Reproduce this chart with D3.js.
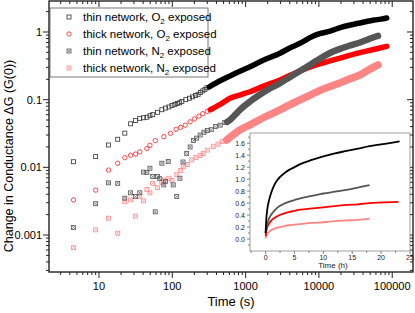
<!DOCTYPE html>
<html>
<head>
<meta charset="utf-8">
<script src="https://cdn.jsdelivr.net/npm/d3@7"></script>
<style>
  body { margin: 0; background: #fff; }
  svg { display: block; font-family: "Liberation Sans", Arial, sans-serif; }
</style>
</head>
<body>
<svg id="chart" width="415" height="313"></svg>
<script>
// early (sparse) points, time in s
const thinO2T = [4.5, 9, 13.5, 18, 22.5, 27, 31.5, 36, 40.5, 45, 49.5, 54, 63, 72, 81, 90, 99, 108, 117, 126, 135, 153, 171, 189, 207, 225, 243, 261, 279, 297];
const thinO2V = [0.0121, 0.0144, 0.0214, 0.026, 0.032, 0.044, 0.049, 0.053, 0.054, 0.055, 0.058, 0.06, 0.065, 0.071, 0.075, 0.078, 0.082, 0.085, 0.088, 0.09, 0.094, 0.1, 0.105, 0.11, 0.115, 0.12, 0.128, 0.135, 0.142, 0.15];

const thickO2T = [4.5, 9, 13.5, 18, 22.5, 27, 31.5, 36, 45, 49.5, 58.5, 76.5, 94.5, 112.5, 130, 150, 175, 200, 230, 260, 300, 340];
const thickO2V = [0.0033, 0.0046, 0.0091, 0.0115, 0.0139, 0.0151, 0.0157, 0.0169, 0.0189, 0.0212, 0.0248, 0.0284, 0.0318, 0.0365, 0.039, 0.042, 0.047, 0.052, 0.057, 0.062, 0.067, 0.072];

const thinN2T = [4.5, 9, 13.5, 18, 22.5, 27, 31.5, 36, 40.5, 45, 49.5, 54, 58.5, 63, 67.5, 72, 76.5, 81, 88, 103, 115, 127, 140, 157, 175, 195, 215, 240, 270, 300, 340, 390, 450, 520];
const thinN2V = [0.00129, 0.0029, 0.0059, 0.0058, 0.0035, 0.0042, 0.0037, 0.0042, 0.0085, 0.0084, 0.0097, 0.0073, 0.0022, 0.0073, 0.0068, 0.0115, 0.0055, 0.0062, 0.0122, 0.0055, 0.0037, 0.0069, 0.012, 0.016, 0.02, 0.025, 0.027, 0.03, 0.033, 0.035, 0.036, 0.04, 0.042, 0.046];

const thickN2T = [4.5, 9, 13.5, 18, 22.5, 27, 31.5, 36, 40.5, 45, 49.5, 54, 63, 72, 76.5, 90, 99, 115, 130, 141, 160, 184, 210, 240, 264, 300, 361, 420, 480];
const thickN2V = [0.00065, 0.00119, 0.00177, 0.00106, 0.0031, 0.0033, 0.0019, 0.0037, 0.0032, 0.0047, 0.0042, 0.0058, 0.005, 0.006, 0.0065, 0.0069, 0.0064, 0.0078, 0.009, 0.0102, 0.011, 0.0129, 0.014, 0.015, 0.016, 0.018, 0.0202, 0.022, 0.024];

// dense part of each record, drawn as a thick trace
const thinO2DenseT = [320, 450, 612, 850, 1149, 1800, 2943, 4000, 5521, 8000, 10500, 14150, 20000, 27000, 36360, 46000, 57000, 70000, 84100];
const thinO2DenseV = [0.155, 0.19, 0.224, 0.265, 0.307, 0.39, 0.485, 0.58, 0.681, 0.85, 0.95, 1.03, 1.17, 1.27, 1.36, 1.44, 1.5, 1.55, 1.61];
const thickO2DenseT = [330, 450, 612, 850, 1149, 1800, 2943, 4000, 5521, 8000, 10500, 14150, 20000, 27000, 36360, 46000, 57000, 70000, 84100];
const thickO2DenseV = [0.071, 0.085, 0.105, 0.118, 0.131, 0.16, 0.195, 0.228, 0.265, 0.31, 0.34, 0.375, 0.415, 0.455, 0.495, 0.525, 0.555, 0.585, 0.612];
const thinN2DenseT = [560, 612, 700, 850, 1149, 1500, 2000, 2943, 4000, 5521, 8000, 10500, 14150, 20000, 27000, 36360, 46000, 55000, 64000];
const thinN2DenseV = [0.047, 0.05, 0.058, 0.072, 0.094, 0.115, 0.14, 0.175, 0.215, 0.265, 0.34, 0.41, 0.49, 0.57, 0.635, 0.7, 0.77, 0.83, 0.875];
const thickN2DenseT = [550, 700, 839, 1149, 1800, 2943, 4000, 5521, 8000, 10500, 14150, 20000, 27000, 36360, 46000, 55000, 64000];
const thickN2DenseV = [0.0254, 0.031, 0.0357, 0.0423, 0.055, 0.0705, 0.084, 0.099, 0.12, 0.138, 0.156, 0.18, 0.205, 0.232, 0.27, 0.3, 0.326];

// inset, time in hours
const insetThinO2H = [0, 0.1, 0.3, 0.6, 1, 1.5, 2, 3, 4, 5, 6, 8, 10, 12, 14, 16, 18, 20, 22, 23.2];
const insetThinO2V = [0.1, 0.3, 0.5, 0.65, 0.78, 0.9, 0.98, 1.08, 1.15, 1.2, 1.25, 1.32, 1.38, 1.43, 1.47, 1.51, 1.55, 1.58, 1.61, 1.63];
const insetThinN2H = [0, 0.1, 0.3, 0.6, 1, 1.5, 2, 3, 4, 5, 6, 8, 10, 12, 14, 16, 18];
const insetThinN2V = [0.1, 0.17, 0.26, 0.34, 0.41, 0.47, 0.52, 0.58, 0.62, 0.65, 0.68, 0.72, 0.76, 0.79, 0.82, 0.86, 0.9];
const insetThickO2H = [0, 0.1, 0.3, 0.6, 1, 1.5, 2, 3, 4, 5, 6, 8, 10, 12, 14, 16, 18, 20, 23];
const insetThickO2V = [0.05, 0.12, 0.2, 0.26, 0.31, 0.35, 0.38, 0.42, 0.45, 0.47, 0.49, 0.51, 0.53, 0.55, 0.57, 0.58, 0.6, 0.61, 0.62];
const insetThickN2H = [0, 0.1, 0.3, 0.6, 1, 1.5, 2, 3, 4, 5, 6, 8, 10, 12, 14, 16, 18];
const insetThickN2V = [0.01, 0.05, 0.09, 0.12, 0.15, 0.17, 0.19, 0.21, 0.23, 0.24, 0.25, 0.27, 0.28, 0.3, 0.31, 0.32, 0.34];

const xTicks = [10, 100, 1000, 10000, 100000];
const yTicks = [0.001, 0.01, 0.1, 1];
const yTickLabels = ['0.001', '0.01', '0.1', '1'];
const insetXTicks = [0, 5, 10, 15, 20, 25];
const insetYTicks = [0, 0.2, 0.4, 0.6, 0.8, 1.0, 1.2, 1.4, 1.6];

const seriesNames = ['thin network, O', 'thick network, O', 'thin network, N', 'thick network, N'];
const subs = ['2', '2', '2', '2'];

const svg = d3.select('#chart');
const L = 49, R = 413, T = 1, B = 272;

const x = d3.scaleLog().domain([2.08, 192000]).range([L, R]);
const y = d3.scaleLog().domain([2.87, 2.84e-4]).range([T, B]);

const zip = (a, b) => a.map((d, i) => [d, b[i]]);

// minor ticks
function minorLog(lo, hi) {
  const out = [];
  for (let e = Math.floor(Math.log10(lo)); e <= Math.ceil(Math.log10(hi)); e++) {
    for (let m = 1; m < 10; m++) {
      const v = m * Math.pow(10, e);
      if (v >= lo && v <= hi) out.push(v);
    }
  }
  return out;
}
const xMinor = minorLog(2.08, 192000).filter(v => !xTicks.includes(v));
const yMinor = minorLog(2.84e-4, 2.87).filter(v => !yTicks.some(t => Math.abs(t - v) / t < 1e-6));

const axisCol = '#222';
const ax = svg.append('g').attr('stroke', axisCol).attr('stroke-width', 1);

// bottom ticks (outward)
xMinor.forEach(v => ax.append('line').attr('x1', x(v)).attr('x2', x(v)).attr('y1', B).attr('y2', B + 3));
xTicks.forEach(v => ax.append('line').attr('x1', x(v)).attr('x2', x(v)).attr('y1', B).attr('y2', B + 6));
// top ticks (inward)
xMinor.forEach(v => ax.append('line').attr('x1', x(v)).attr('x2', x(v)).attr('y1', T).attr('y2', T + 3));
xTicks.forEach(v => ax.append('line').attr('x1', x(v)).attr('x2', x(v)).attr('y1', T).attr('y2', T + 6));
// left ticks (outward)
yMinor.forEach(v => ax.append('line').attr('y1', y(v)).attr('y2', y(v)).attr('x1', L).attr('x2', L - 3));
yTicks.forEach(v => ax.append('line').attr('y1', y(v)).attr('y2', y(v)).attr('x1', L).attr('x2', L - 6));
// right ticks (inward)
yMinor.forEach(v => ax.append('line').attr('y1', y(v)).attr('y2', y(v)).attr('x1', R).attr('x2', R - 3));
yTicks.forEach(v => ax.append('line').attr('y1', y(v)).attr('y2', y(v)).attr('x1', R).attr('x2', R - 6));

svg.append('rect').attr('x', L).attr('y', T).attr('width', R - L).attr('height', B - T)
  .attr('fill', 'none').attr('stroke', axisCol).attr('stroke-width', 1.4);

// tick labels
svg.append('g').selectAll('text').data(xTicks).enter().append('text')
  .attr('x', d => x(d)).attr('y', B + 18).attr('text-anchor', 'middle')
  .attr('font-size', 11).attr('fill', '#000').text(d => d);
svg.append('g').selectAll('text').data(yTicks).enter().append('text')
  .attr('x', L - 7).attr('y', d => y(d) + 4).attr('text-anchor', 'end')
  .attr('font-size', 11).attr('fill', '#000').text((d, i) => yTickLabels[i]);

svg.append('text').attr('x', 231).attr('y', 306).attr('text-anchor', 'middle')
  .attr('font-size', 13).text('Time (s)');
svg.append('text').attr('transform', 'translate(13,156) rotate(-90)').attr('text-anchor', 'middle')
  .attr('font-size', 12.5).text('Change in Conductance  ΔG  (G(0))');

// markers
function marker(g, kind, cx, cy, col) {
  if (kind === 'circle') {
    g.append('circle').attr('cx', cx).attr('cy', cy).attr('r', 2.2)
      .attr('fill', 'none').attr('stroke', col).attr('stroke-width', 0.8);
  } else {
    g.append('rect').attr('x', cx - 2).attr('y', cy - 2).attr('width', 4).attr('height', 4)
      .attr('fill', 'none').attr('stroke', col).attr('stroke-width', 0.8);
    if (kind === 'xsquare') {
      g.append('path').attr('d', `M${cx - 1.6},${cy - 1.6}L${cx + 1.6},${cy + 1.6}M${cx + 1.6},${cy - 1.6}L${cx - 1.6},${cy + 1.6}`)
        .attr('stroke', col).attr('stroke-width', 0.6);
    }
  }
}

const series = [
  { t: thinO2T, v: thinO2V, dt: thinO2DenseT, dv: thinO2DenseV, kind: 'square', col: '#333', band: '#000', w: 5.5 },
  { t: thickO2T, v: thickO2V, dt: thickO2DenseT, dv: thickO2DenseV, kind: 'circle', col: '#ff2020', band: '#ff0000', w: 5.5 },
  { t: thinN2T, v: thinN2V, dt: thinN2DenseT, dv: thinN2DenseV, kind: 'xsquare', col: '#555', band: '#555', w: 6.5 },
  { t: thickN2T, v: thickN2V, dt: thickN2DenseT, dv: thickN2DenseV, kind: 'xsquare', col: '#ff8c8c', band: '#ff8585', w: 7.5 }
];

const lineMain = d3.line().x(d => x(d[0])).y(d => y(d[1])).curve(d3.curveMonotoneX);
const plot = svg.append('g');
// draw in reverse so thin O2 ends on top
[3, 1, 2, 0].forEach(i => {
  const s = series[i];
  const g = plot.append('g');
  zip(s.t, s.v).forEach(p => marker(g, s.kind, x(p[0]), y(p[1]), s.col));
  g.append('path').datum(zip(s.dt, s.dv)).attr('d', lineMain)
    .attr('fill', 'none').attr('stroke', s.band).attr('stroke-width', s.w)
    .attr('stroke-linecap', 'round').attr('stroke-linejoin', 'round');
});

// legend
const lg = svg.append('g');
lg.append('rect').attr('x', 50).attr('y', 8).attr('width', 158).attr('height', 69)
  .attr('fill', '#fff').attr('stroke', '#555').attr('stroke-width', 0.8);
const legY = [17, 34, 51, 68];
series.forEach((s, i) => {
  marker(lg, s.kind, 69, legY[i], s.col);
  const tx = lg.append('text').attr('x', 83).attr('y', legY[i] + 4).attr('font-size', 11.5).attr('fill', '#000');
  tx.append('tspan').text(seriesNames[i]);
  tx.append('tspan').attr('font-size', 8).attr('dy', 3).text(subs[i]);
  tx.append('tspan').attr('dy', -3).text(' exposed');
});

// inset
const iL = 250, iR = 410, iT = 133, iB = 251;
const xi = d3.scaleLinear().domain([-2.7, 25]).range([iL, iR]);
const yi = d3.scaleLinear().domain([-0.2, 1.77]).range([iB, iT]);
const ins = svg.append('g');
ins.append('rect').attr('x', iL).attr('y', iT).attr('width', iR - iL).attr('height', iB - iT)
  .attr('fill', '#fff').attr('stroke', '#888').attr('stroke-width', 0.8);

const ig = ins.append('g').attr('stroke', '#555').attr('stroke-width', 0.7);
d3.range(-2.5, 25.1, 2.5).forEach(v => ig.append('line').attr('x1', xi(v)).attr('x2', xi(v))
  .attr('y1', iB).attr('y2', iB + (insetXTicks.includes(v) ? 3 : 2)));
d3.range(-0.1, 1.75, 0.1).forEach(v => ig.append('line').attr('y1', yi(v)).attr('y2', yi(v))
  .attr('x1', iL).attr('x2', iL - (Math.round(v * 10) % 2 === 0 ? 3 : 2)));

ins.append('g').selectAll('text').data(insetXTicks).enter().append('text')
  .attr('x', d => xi(d)).attr('y', iB + 9).attr('text-anchor', 'middle')
  .attr('font-size', 7).attr('fill', '#222').text(d => d);
ins.append('g').selectAll('text').data(insetYTicks).enter().append('text')
  .attr('x', iL - 5).attr('y', d => yi(d) + 2.5).attr('text-anchor', 'end')
  .attr('font-size', 7).attr('fill', '#222').text(d => d.toFixed(1));
ins.append('text').attr('x', 333).attr('y', 268).attr('text-anchor', 'middle')
  .attr('font-size', 8).attr('fill', '#222').text('Time (h)');

const insetSeries = [
  { h: insetThickN2H, v: insetThickN2V, col: '#ff8585' },
  { h: insetThickO2H, v: insetThickO2V, col: '#ff0000' },
  { h: insetThinN2H, v: insetThinN2V, col: '#555' },
  { h: insetThinO2H, v: insetThinO2V, col: '#000' }
];
const lineInset = d3.line().x(d => xi(d[0])).y(d => yi(d[1])).curve(d3.curveMonotoneX);
insetSeries.forEach(s => {
  ins.append('path').datum(zip(s.h, s.v)).attr('d', lineInset)
    .attr('fill', 'none').attr('stroke', s.col).attr('stroke-width', 1.8);
});
</script>
</body>
</html>
